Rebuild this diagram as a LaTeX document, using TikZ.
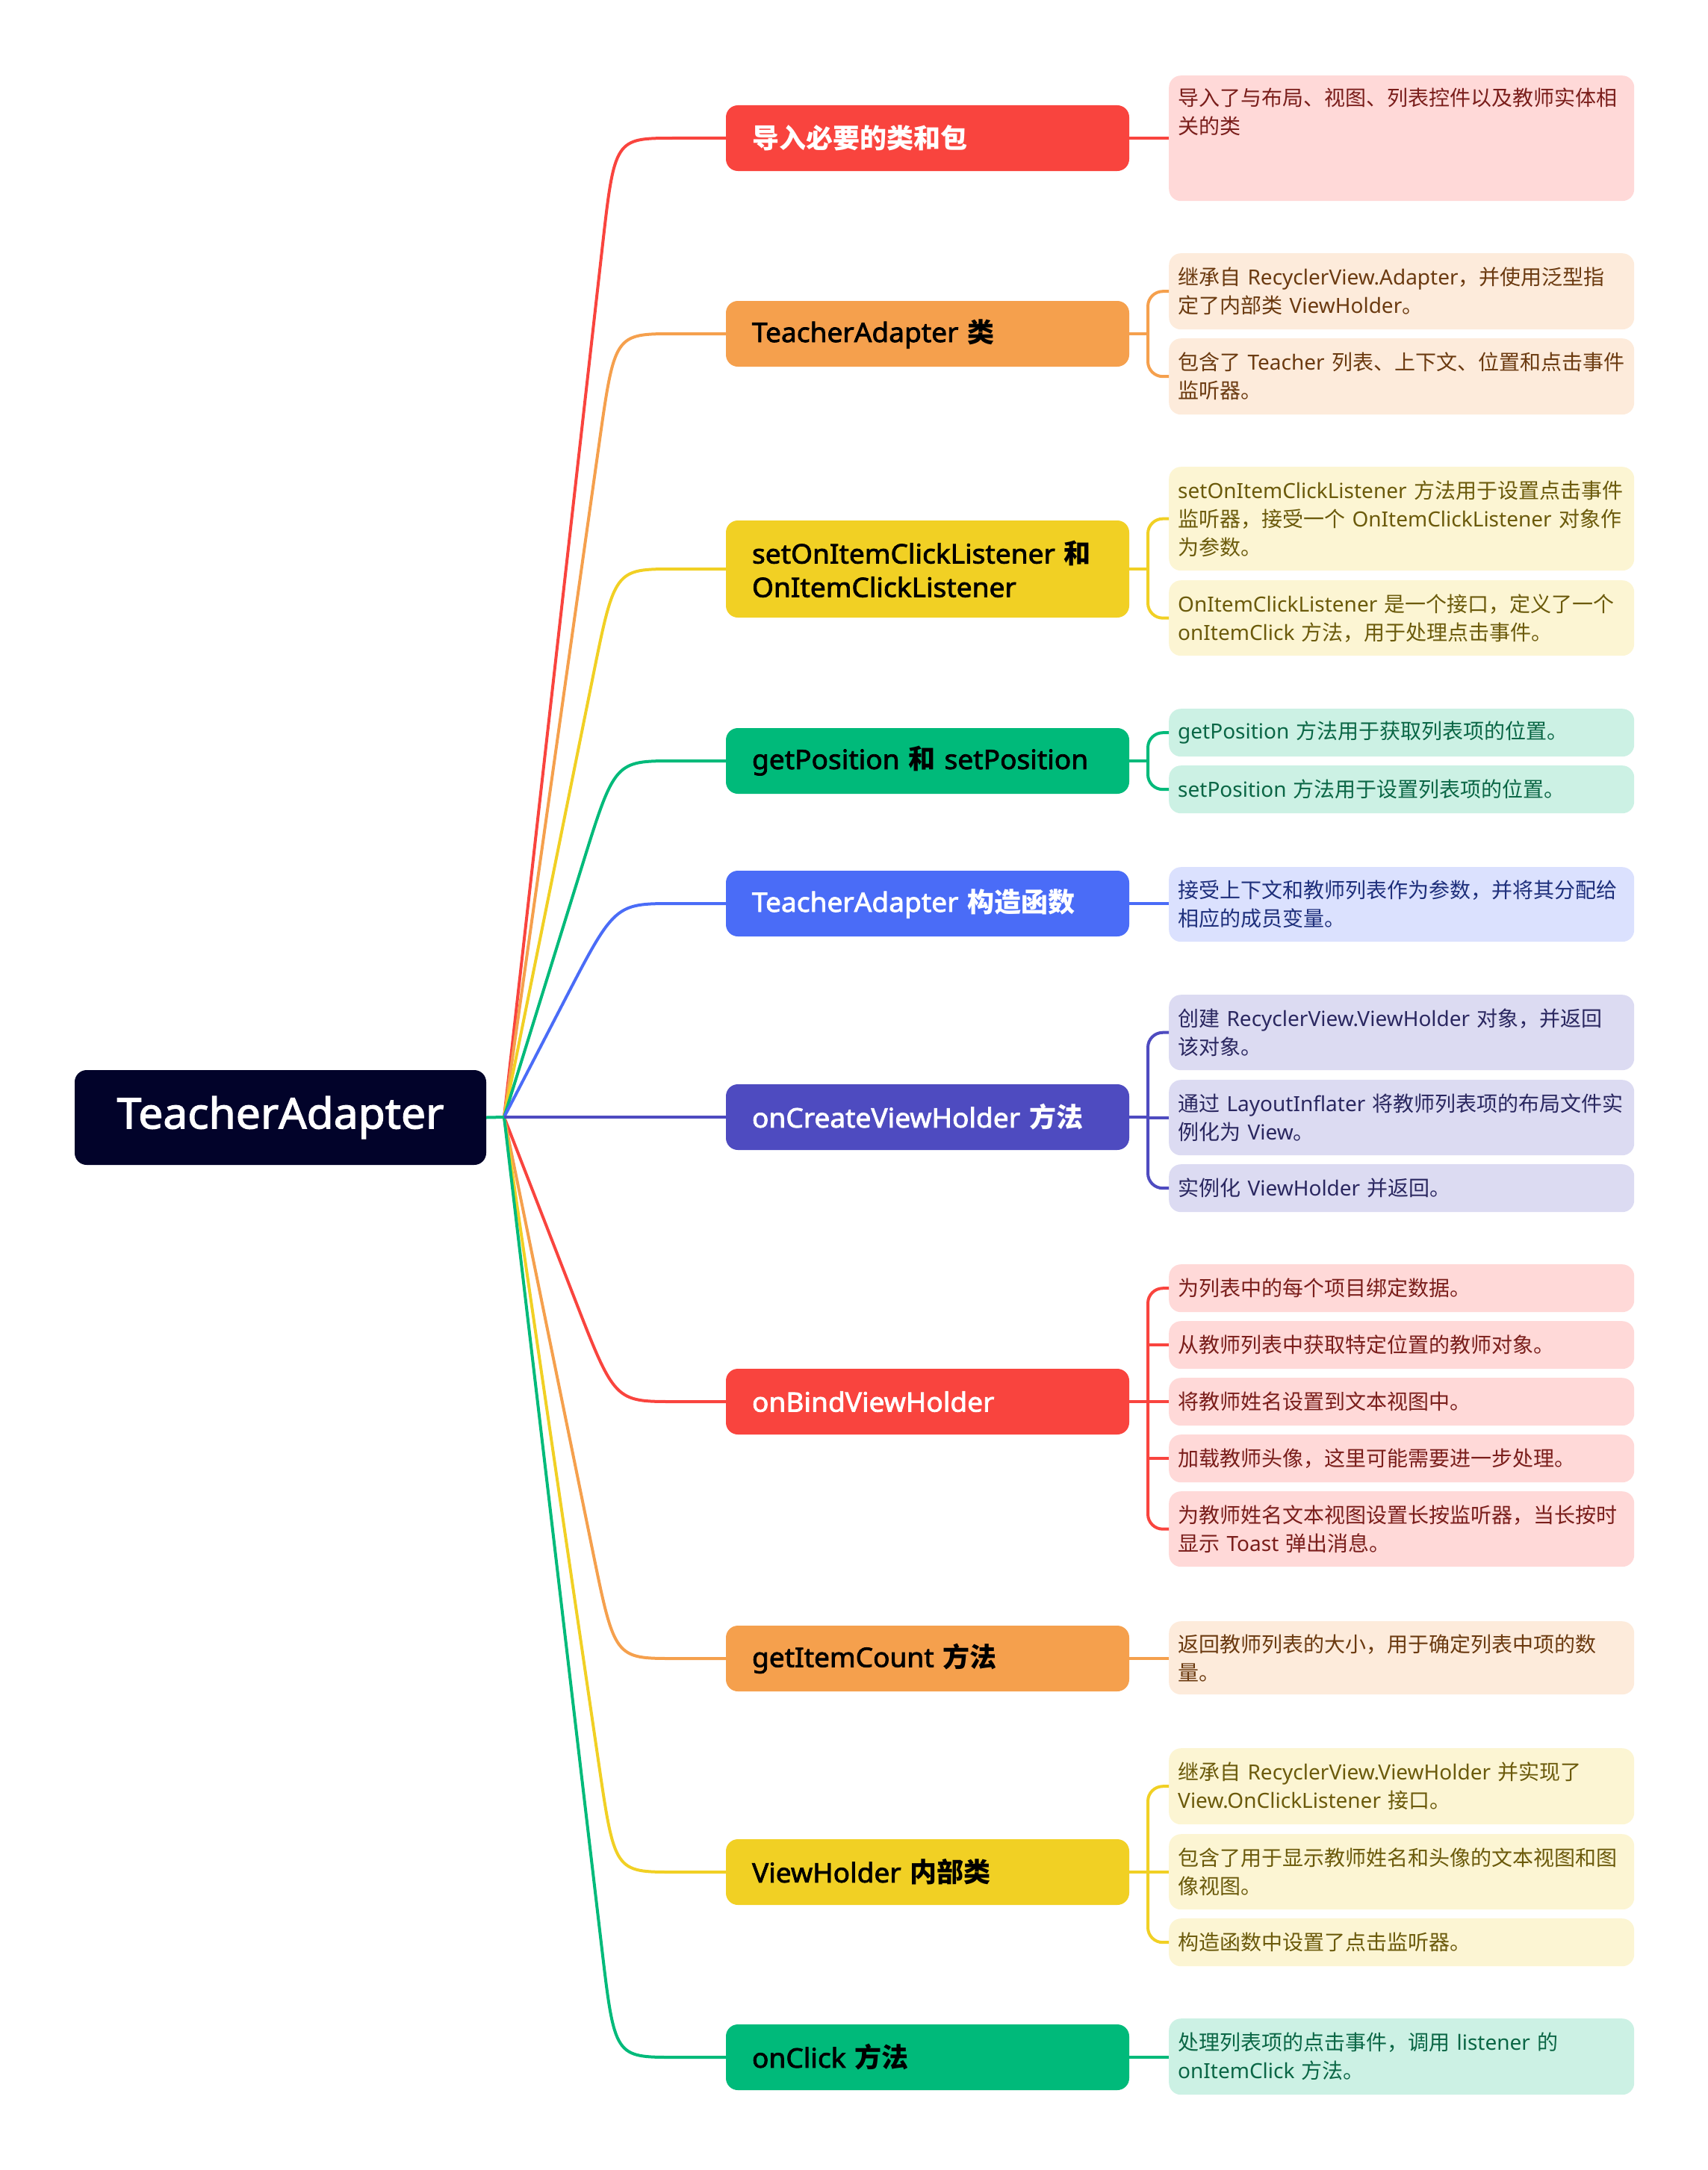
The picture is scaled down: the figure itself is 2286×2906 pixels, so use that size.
\documentclass[tikz,border=0pt]{standalone}
\usepackage{fontspec}
\setmainfont{Noto Sans CJK SC}
\newfontfamily\enfont{Noto Sans}[BoldFont={Noto Sans}, BoldFeatures={FakeBold=2.2, FakeStretch=1.03}]
\usetikzlibrary{calc}
\newcommand\en[1]{{\enfont #1}}
\definecolor{cR}{HTML}{F9443E}
\definecolor{cO}{HTML}{F5A04D}
\definecolor{cY}{HTML}{F1D024}
\definecolor{cG}{HTML}{00BA7A}
\definecolor{cB}{HTML}{4A6CF7}
\definecolor{cP}{HTML}{4E4BC0}
\definecolor{cRoot}{HTML}{02032A}
\definecolor{lR}{HTML}{FFD9D8}
\definecolor{lO}{HTML}{FDEBDB}
\definecolor{lY}{HTML}{FCF5D3}
\definecolor{lG}{HTML}{CCF1E4}
\definecolor{lB}{HTML}{DBE1FE}
\definecolor{lP}{HTML}{DCDBF2}
\definecolor{tR}{HTML}{7A1E1B}
\definecolor{tO}{HTML}{6B3A10}
\definecolor{tY}{HTML}{6B5A0B}
\definecolor{tG}{HTML}{0A6645}
\definecolor{tB}{HTML}{1E2F7B}
\definecolor{tP}{HTML}{2A2760}
\tikzset{
  conn/.style={line width=4pt},
  leafbase/.style={rounded corners=16pt, anchor=north west, inner xsep=12pt, inner ysep=0pt, font={\fontsize{28pt}{38pt}\selectfont}},
  leaf/.style={leafbase, text width=599pt, align=left},
  br/.style={rounded corners=16pt, text width=470pt, inner xsep=35pt, inner ysep=0pt, minimum height=88pt, align=left, font={\fontsize{36pt}{45pt}\selectfont\bfseries}},
  rootbox/.style={rounded corners=16pt, fill=cRoot, text=white, minimum width=551pt, minimum height=127pt, inner sep=0pt, font={\fontsize{57pt}{62pt}\selectfont\bfseries\enfont}}
}
\begin{document}
\begin{tikzpicture}[x=1pt,y=-1pt]
\useasboundingbox (0,0) rectangle (2286,2906);
% root
\node[rootbox] (root) at (375.5,1496.5) {TeacherAdapter};
% branches
\node[br, fill=cR, text=white] (b1) at (1242,185) {导入必要的类和包};
\node[br, fill=cO, text=black] (b2) at (1242,447) {\en{TeacherAdapter}~类};
\node[br, fill=cY, text=black, minimum height=130pt] (b3) at (1242,762) {\en{setOnItemClickListener}~和\\\en{OnItemClickListener}};
\node[br, fill=cG, text=black] (b4) at (1242,1019) {\en{getPosition}~和~\en{setPosition}};
\node[br, fill=cB, text=white] (b5) at (1242,1210) {\en{TeacherAdapter}~构造函数};
\node[br, fill=cP, text=white] (b6) at (1242,1496) {\en{onCreateViewHolder}~方法};
\node[br, fill=cR, text=white] (b7) at (1242,1877) {\en{onBindViewHolder}};
\node[br, fill=cO, text=black] (b8) at (1242,2221) {\en{getItemCount}~方法};
\node[br, fill=cY, text=black] (b9) at (1242,2507) {\en{ViewHolder}~内部类};
\node[br, fill=cG, text=black] (b10) at (1242,2755) {\en{onClick}~方法};
% leaves
\node[leafbase, fill=lR, text=tR, inner ysep=17pt] (l1) at (1565,101) {\parbox[c][134pt][t]{599pt}{\raggedright 导入了与布局、视图、列表控件以及教师实体相\\关的类}};
\node[leaf, fill=lO, text=tO, minimum height=102pt] (l2a) at (1565,339) {继承自~\en{RecyclerView.Adapter}，并使用泛型指\\定了内部类~\en{ViewHolder}。};
\node[leaf, fill=lO, text=tO, minimum height=102pt] (l2b) at (1565,453) {包含了~\en{Teacher}~列表、上下文、位置和点击事件\\监听器。};
\node[leaf, fill=lY, text=tY, minimum height=139pt] (l3a) at (1565,625) {\en{setOnItemClickListener}~方法用于设置点击事件\\监听器，接受一个~\en{OnItemClickListener}~对象作\\为参数。};
\node[leaf, fill=lY, text=tY, minimum height=101pt] (l3b) at (1565,777) {\en{OnItemClickListener}~是一个接口，定义了一个\\\en{onItemClick}~方法，用于处理点击事件。};
\node[leaf, fill=lG, text=tG, minimum height=64pt] (l4a) at (1565,949) {\en{getPosition}~方法用于获取列表项的位置。};
\node[leaf, fill=lG, text=tG, minimum height=64pt] (l4b) at (1565,1025) {\en{setPosition}~方法用于设置列表项的位置。};
\node[leaf, fill=lB, text=tB, minimum height=100pt] (l5) at (1565,1161) {接受上下文和教师列表作为参数，并将其分配给\\相应的成员变量。};
\node[leaf, fill=lP, text=tP, minimum height=101pt] (l6a) at (1565,1332) {创建~\en{RecyclerView.ViewHolder}~对象，并返回\\该对象。};
\node[leaf, fill=lP, text=tP, minimum height=101pt] (l6b) at (1565,1446) {通过~\en{LayoutInflater}~将教师列表项的布局文件实\\例化为~\en{View}。};
\node[leaf, fill=lP, text=tP, minimum height=64pt] (l6c) at (1565,1559) {实例化~\en{ViewHolder}~并返回。};
\node[leaf, fill=lR, text=tR, minimum height=64pt] (l7a) at (1565,1693) {为列表中的每个项目绑定数据。};
\node[leaf, fill=lR, text=tR, minimum height=64pt] (l7b) at (1565,1769) {从教师列表中获取特定位置的教师对象。};
\node[leaf, fill=lR, text=tR, minimum height=64pt] (l7c) at (1565,1845) {将教师姓名设置到文本视图中。};
\node[leaf, fill=lR, text=tR, minimum height=64pt] (l7d) at (1565,1921) {加载教师头像，这里可能需要进一步处理。};
\node[leaf, fill=lR, text=tR, minimum height=101pt] (l7e) at (1565,1997) {为教师姓名文本视图设置长按监听器，当长按时\\显示~\en{Toast}~弹出消息。};
\node[leaf, fill=lO, text=tO, minimum height=98pt] (l8) at (1565,2171) {返回教师列表的大小，用于确定列表中项的数\\量。};
\node[leaf, fill=lY, text=tY, minimum height=102pt] (l9a) at (1565,2341) {继承自~\en{RecyclerView.ViewHolder}~并实现了\\\en{View.OnClickListener}~接口。};
\node[leaf, fill=lY, text=tY, minimum height=101pt] (l9b) at (1565,2456) {包含了用于显示教师姓名和头像的文本视图和图\\像视图。};
\node[leaf, fill=lY, text=tY, minimum height=64pt] (l9c) at (1565,2569) {构造函数中设置了点击监听器。};
\node[leaf, fill=lG, text=tG, minimum height=102pt] (l10) at (1565,2703) {处理列表项的点击事件，调用~\en{listener}~的\\\en{onItemClick}~方法。};
% hub connectors
\coordinate (hub) at (675,1496);
\coordinate (kx) at (823,0);
\coordinate (jx) at (1537,0);
\foreach \b/\c in {b1/cR,b2/cO,b3/cY,b4/cG,b5/cB,b7/cR,b8/cO,b9/cY,b10/cG}{
  \coordinate (k-\b) at (kx |- \b.west);
  \draw[conn, \c] (hub) -- ($(k-\b)!150pt!(hub)$) .. controls (k-\b) and (k-\b) .. ($(k-\b)+(80,0)$) -- (\b.west);
}
\draw[conn, cP] (hub) -- (b6.west);
\draw[conn, cG] (root.east) -- (hub);
% single leaf connectors
\draw[conn, cR] (b1.east) -- (b1.east -| l1.west);
\draw[conn, cB] (b5.east) -- (b5.east -| l5.west);
\draw[conn, cO] (b8.east) -- (b8.east -| l8.west);
\draw[conn, cG] (b10.east) -- (b10.east -| l10.west);
% brackets
\draw[conn, cO] (b2.east) -- (b2.east -| jx);
\draw[conn, cO, rounded corners=20pt] (l2a.west) -| (jx |- l2b.west) -- (l2b.west);
\draw[conn, cY] (b3.east) -- (b3.east -| jx);
\draw[conn, cY, rounded corners=20pt] (l3a.west) -| (jx |- l3b.west) -- (l3b.west);
\draw[conn, cG] (b4.east) -- (b4.east -| jx);
\draw[conn, cG, rounded corners=20pt] (l4a.west) -| (jx |- l4b.west) -- (l4b.west);
\draw[conn, cP] (b6.east) -- (b6.east -| jx);
\draw[conn, cP, rounded corners=20pt] (l6a.west) -| (jx |- l6c.west) -- (l6c.west);
\draw[conn, cP] (jx |- l6b.west) -- (l6b.west);
\draw[conn, cR] (b7.east) -- (b7.east -| jx);
\draw[conn, cR, rounded corners=20pt] (l7a.west) -| (jx |- l7e.west) -- (l7e.west);
\draw[conn, cR] (jx |- l7b.west) -- (l7b.west);
\draw[conn, cR] (jx |- l7c.west) -- (l7c.west);
\draw[conn, cR] (jx |- l7d.west) -- (l7d.west);
\draw[conn, cY] (b9.east) -- (b9.east -| jx);
\draw[conn, cY, rounded corners=20pt] (l9a.west) -| (jx |- l9c.west) -- (l9c.west);
\draw[conn, cY] (jx |- l9b.west) -- (l9b.west);
\end{tikzpicture}
\end{document}
